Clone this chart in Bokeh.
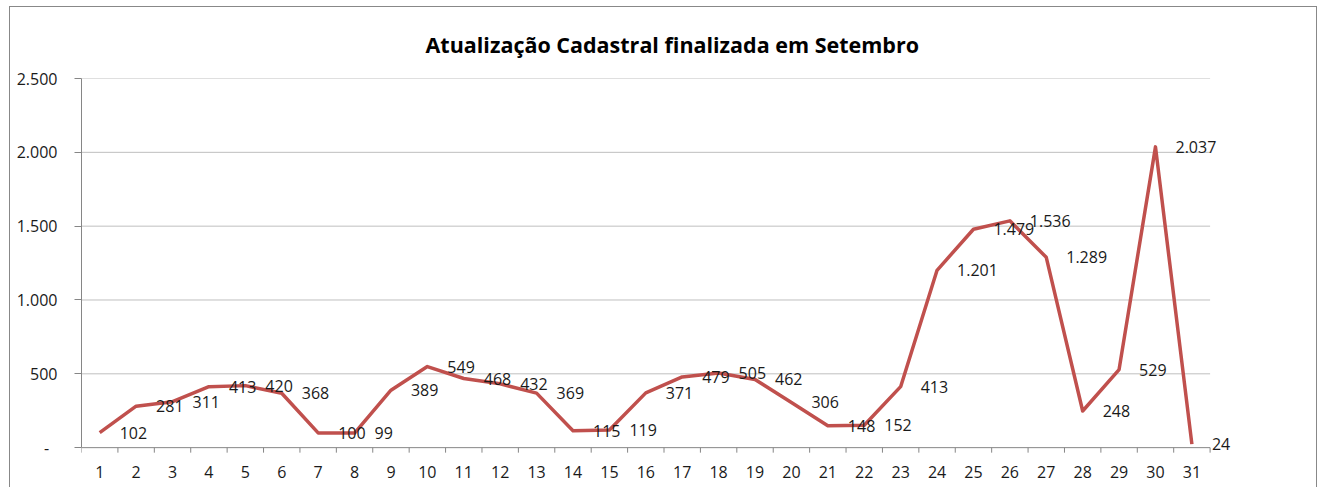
from bokeh.plotting import figure
from bokeh.models import FixedTicker, CustomJSTickFormatter, Range1d, ColumnDataSource, LabelSet
from bokeh.core.properties import value
from bokeh.embed import file_html
from bokeh.resources import INLINE

title_text = "Atualização Cadastral finalizada em Setembro"
days = list(range(1, 32))
values = [102, 281, 311, 413, 420, 368, 100, 99, 389, 549, 468, 432, 369, 115, 119,
          371, 479, 505, 462, 306, 148, 152, 413, 1201, 1479, 1536, 1289, 248, 529, 2037, 24]
y_ticks = [0, 500, 1000, 1500, 2000, 2500]


def fmt(v):
    return f"{v:,}".replace(",", ".")


labels = [fmt(v) for v in values]
src = ColumnDataSource(dict(day=days, val=values, lab=labels))

X_START = days[0] - 0.5
X_END = days[-1] + 0.5
Y_MIN = y_ticks[0]
Y_MAX = y_ticks[-1]
PAD_BELOW = 60          # data units of empty frame under the 0 line (room for the "24" label)
TICK_LEN = 34           # data units (about 5 px) for the category separator ticks

FONT = "Open Sans"
AXIS_C = "#868686"
GRID_C = "#bfbfbf"
TXT_C = "#1a1a1a"

# the frame is a little larger than the axes (right and below) so that the
# data labels of the last points are not clipped
p = figure(output_backend="svg", toolbar_location=None,
           x_range=Range1d(X_START, X_END + 1.0), y_range=Range1d(Y_MIN - PAD_BELOW, Y_MAX),
           frame_width=1165, frame_height=378,
           min_border_left=71, min_border_right=70, min_border_top=71, min_border_bottom=31)
p.styles = {"margin-top": "6px", "margin-left": "9px",
            "border-left": "1px solid #888888", "border-top": "1px solid #888888",
            "border-right": "1px solid #888888"}
p.background_fill_color = "white"
p.border_fill_color = "white"
p.outline_line_color = None

p.title.text = title_text
p.title.align = "left"
p.title.offset = 344
p.title.text_font = FONT
p.title.text_font_style = "bold"
p.title.text_font_size = "21.5px"
p.title.text_color = "#000000"
p.title.standoff = 40

# x axis: only the category labels; line and separator ticks are drawn at y = 0 below
p.xaxis.ticker = FixedTicker(ticks=days, minor_ticks=[])
p.xaxis.major_tick_out = 0
p.xaxis.major_tick_in = 0
p.xaxis.major_tick_line_color = None
p.xaxis.minor_tick_line_color = None
p.xaxis.axis_line_color = None
p.xaxis.major_label_standoff = 9
p.xaxis.major_label_text_font = FONT
p.xaxis.major_label_text_font_size = "16px"
p.xaxis.major_label_text_color = TXT_C

# y axis
p.yaxis.bounds = (Y_MIN, Y_MAX)
p.yaxis.ticker = FixedTicker(ticks=y_ticks, minor_ticks=[])
p.yaxis.formatter = CustomJSTickFormatter(code="""
    if (tick == 0) { return "-\\u00a0\\u00a0"; }
    return tick.toString().replace(/\\B(?=(\\d{3})+(?!\\d))/g, ".");
""")
p.yaxis.major_tick_out = 7
p.yaxis.major_tick_in = 0
p.yaxis.major_tick_line_color = AXIS_C
p.yaxis.minor_tick_line_color = None
p.yaxis.axis_line_color = AXIS_C
p.yaxis.major_label_standoff = 17
p.yaxis.major_label_text_font = FONT
p.yaxis.major_label_text_font_size = "16px"
p.yaxis.major_label_text_color = TXT_C

p.xgrid.grid_line_color = None
p.ygrid.grid_line_color = None
grid_y = y_ticks[1:]
p.segment(x0=[X_START] * len(grid_y), x1=[X_END] * len(grid_y), y0=grid_y, y1=grid_y,
          line_color=GRID_C, line_width=1)

# category axis line and separator ticks at y = 0
sep_x = [d - 0.5 for d in days] + [X_END]
p.segment(x0=sep_x, x1=sep_x, y0=[Y_MIN] * len(sep_x), y1=[Y_MIN - TICK_LEN] * len(sep_x),
          line_color=AXIS_C, line_width=1)
p.segment(x0=[X_START], x1=[X_END], y0=[Y_MIN], y1=[Y_MIN], line_color=AXIS_C, line_width=1)

p.line(x="day", y="val", source=src, line_color="#c0504d", line_width=3.5, line_join="round")
labs = LabelSet(x="day", y="val", text="lab", source=src, x_offset=20,
                text_align="left", text_baseline="middle", text_font=value(FONT),
                text_font_size=value("16px"), text_color=TXT_C)
p.add_layout(labs)

open("out.html", "w").write(file_html(p, INLINE))
